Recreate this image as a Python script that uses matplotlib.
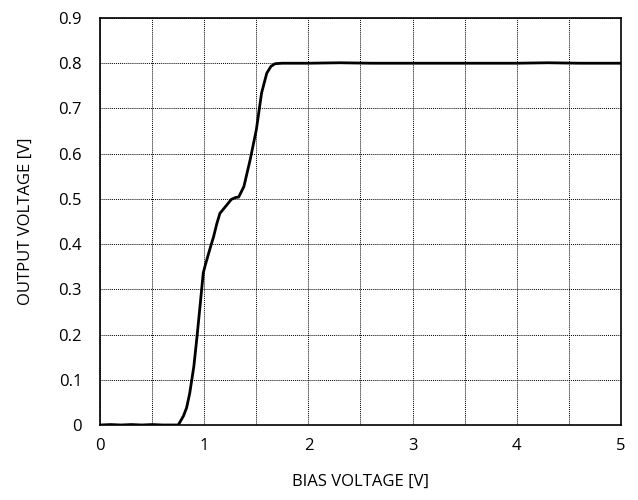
import numpy as np
import matplotlib.pyplot as plt
from matplotlib.ticker import MultipleLocator

bias = [0.0, 0.1, 0.2, 0.3, 0.4, 0.5, 0.6, 0.7, 0.75, 0.8, 0.83, 0.86, 0.9, 0.93, 0.96,
        0.99, 1.01, 1.06, 1.09, 1.12, 1.15, 1.2, 1.26, 1.3, 1.33, 1.38, 1.44, 1.5,
        1.55, 1.6, 1.64, 1.68, 1.75, 2.0, 2.3, 2.6, 3.0, 3.5, 4.0, 4.3, 4.6, 5.0]
output = [0.0, 0.001, 0.0, 0.001, 0.0, 0.001, 0.0, 0.0, 0.0, 0.02, 0.038, 0.07, 0.13, 0.195, 0.265,
          0.336, 0.354, 0.394, 0.417, 0.445, 0.468, 0.482, 0.499, 0.503, 0.504, 0.527, 0.586, 0.653,
          0.734, 0.778, 0.793, 0.799, 0.8, 0.8, 0.801, 0.8, 0.8, 0.8, 0.8, 0.801, 0.8, 0.8]

plt.rcParams['font.family'] = ['Open Sans', 'DejaVu Sans']

fig = plt.figure(figsize=(6.38, 5), dpi=100)
ax = fig.add_axes([0.157, 0.15, 0.816, 0.814])
ax.plot(bias, output, color='black', lw=2)

ax.set_xlim(0, 5)
ax.set_ylim(0, 0.9)
ax.xaxis.set_major_locator(MultipleLocator(1))
ax.xaxis.set_minor_locator(MultipleLocator(0.5))
ax.yaxis.set_major_locator(MultipleLocator(0.1))
ax.set_yticklabels(['0' if abs(v) < 1e-9 else '%.1f' % v for v in ax.get_yticks()])
ax.grid(True, which='both', color='black', linestyle=(0, (1, 1)), linewidth=0.7)
ax.tick_params(which='both', length=0, labelsize=12)
ax.tick_params(axis='y', pad=13)
ax.tick_params(axis='x', pad=9)
for s in ax.spines.values():
    s.set_linewidth(1.2)

ax.set_xlabel('BIAS VOLTAGE [V]', fontsize=12, labelpad=15)
ax.set_ylabel('OUTPUT VOLTAGE [V]', fontsize=12, labelpad=18)

fig.savefig('out.png', dpi=100)
